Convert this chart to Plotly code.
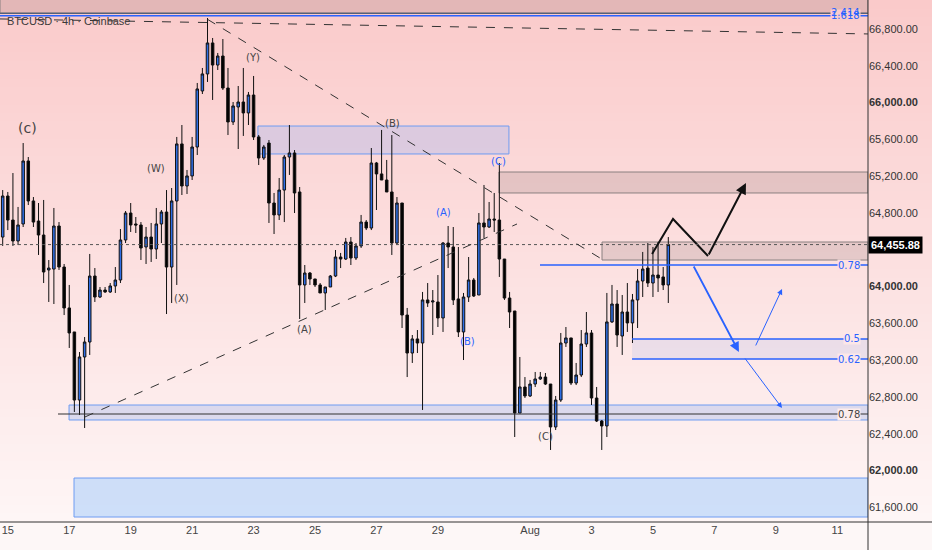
import pandas as pd
import plotly.graph_objects as go

# BTCUSD 4h candles
opens = [64538, 64984, 64723, 64495, 64680, 65365, 64930, 64712, 64560, 64180,
         64190, 64658, 64212, 63767, 63506, 62766, 63234, 63397, 64114, 63886,
         63962, 63941, 64006, 64071, 64506, 64799, 64680, 64669, 64430, 64538,
         64408, 64680, 64810, 64212, 64930, 65550, 65093, 65202, 65517, 66126,
         66311, 66648, 66408, 66506, 66158, 65789, 65952, 66006, 65887, 66082,
         65626, 65397, 65560, 64908, 64778, 65049, 65408, 65452, 65028, 64017,
         64147, 64082, 64017, 63930, 63995, 64114, 64321, 64299, 64484, 64310,
         64441, 64701, 64636, 65343, 65224, 65158, 65028, 64473, 64908, 63690,
         63277, 63430, 63386, 63854, 63832, 63832, 63658, 64473, 64430, 63865,
         63506, 63886, 64071, 63908, 64691, 64647, 64734, 64723, 64299, 63875,
         63734, 62625, 62908, 62810, 62940, 62995, 63016, 62940, 62473, 62766,
         63386, 63441, 62951, 63038, 63375, 63495, 62788, 62538, 62484, 63615,
         63810, 63462, 63723, 63604, 63854, 64060, 64201, 64038, 64125, 64104,
         64017]
highs = [65049, 65028, 65234, 64865, 65560, 65408, 64973, 64908, 64941, 64288,
         64854, 64701, 64245, 64017, 63506, 63288, 63451, 64354, 64201, 63995,
         63995, 64038, 64212, 64625, 64821, 64908, 64756, 64701, 64647, 64691,
         64854, 64832, 65049, 65071, 65626, 65756, 65267, 65626, 66213, 66376,
         66919, 66702, 66539, 66691, 66376, 66006, 66180, 66376, 66115, 66289,
         65647, 65539, 65593, 65017, 65180, 65430, 65756, 65484, 65082, 64234,
         64158, 64082, 64038, 63995, 64125, 64397, 64365, 64528, 64538, 64473,
         64778, 64723, 65506, 65354, 65702, 65376, 65647, 64973, 64908, 63767,
         63473, 63527, 63941, 64038, 63962, 64125, 64484, 64658, 64647, 64430,
         63930, 64321, 64093, 64799, 65104, 64919, 65017, 65343, 64299, 63941,
         63734, 63234, 63016, 62984, 63071, 63071, 63060, 62940, 62810, 63495,
         63560, 63441, 63169, 63527, 63723, 63527, 62908, 62549, 63930, 64017,
         63962, 63908, 64038, 63919, 64190, 64376, 64473, 64430, 64484, 64212,
         64538]
lows = [64441, 64614, 64441, 64451, 64647, 64886, 64647, 64343, 64038, 63832,
        63810, 64180, 63690, 63332, 62636, 62603, 62462, 63256, 63832, 63875,
        63930, 63930, 63930, 64038, 64473, 64593, 64582, 64288, 64245, 64267,
        64299, 64473, 63701, 63821, 64017, 64995, 65006, 65158, 65430, 66093,
        66224, 66028, 66354, 66137, 65647, 65756, 65495, 65637, 65756, 65593,
        65321, 65376, 64691, 64571, 64723, 64701, 65213, 64799, 63647, 63821,
        64017, 63995, 63930, 63745, 63995, 64103, 64201, 64288, 64234, 64288,
        64419, 64614, 64614, 64832, 65158, 65028, 64343, 64451, 63549, 63016,
        63169, 63277, 62658, 63778, 63473, 63560, 63506, 64201, 63799, 63451,
        63201, 63832, 63886, 63908, 64528, 64636, 64593, 64104, 63854, 63549,
        62364, 62625, 62788, 62799, 62908, 62984, 62929, 62223, 62440, 62745,
        63343, 62929, 62929, 63016, 63343, 62712, 62527, 62223, 62364, 63604,
        63343, 63256, 63506, 63386, 63549, 63886, 63995, 63886, 63941, 63962,
        63821]
closes = [64984, 64723, 64495, 64669, 65365, 64930, 64701, 64560, 64158, 64201,
          64658, 64212, 63767, 63495, 62766, 63234, 63397, 64114, 63886, 63962,
          63941, 64006, 64071, 64506, 64799, 64669, 64669, 64419, 64538, 64408,
          64680, 64810, 64212, 64930, 65550, 65093, 65202, 65517, 66148, 66311,
          66648, 66408, 66506, 66158, 65789, 65963, 66006, 65887, 66082, 65626,
          65397, 65517, 64908, 64778, 65049, 65408, 65452, 65017, 64017, 64147,
          64082, 64017, 63930, 63995, 64114, 64321, 64299, 64484, 64310, 64441,
          64701, 64636, 65343, 65224, 65158, 65028, 64473, 64908, 63690, 63277,
          63430, 63386, 63854, 63821, 63843, 63658, 64473, 64430, 63854, 63506,
          63886, 64071, 63897, 64691, 64647, 64734, 64723, 64299, 63875, 63723,
          62625, 62908, 62810, 62940, 62995, 63016, 62940, 62473, 62766, 63386,
          63441, 62951, 63038, 63375, 63495, 62788, 62538, 62484, 63615, 63810,
          63473, 63723, 63604, 63854, 64060, 64190, 64038, 64125, 64093, 64017,
          64455.88]
dates = pd.date_range("2024-07-14 20:00", periods=len(opens), freq="4h")

last_price = 64455.88
price_ticks = [61600, 62000, 62400, 62800, 63200, 63600, 64000, 64800, 65200,
               65600, 66000, 66400, 66800]
bold_ticks = [62000, 64000, 66000]
day_ticks = ["2024-07-15", "2024-07-17", "2024-07-19", "2024-07-21", "2024-07-23",
             "2024-07-25", "2024-07-27", "2024-07-29", "2024-08-01", "2024-08-03",
             "2024-08-05", "2024-08-07", "2024-08-09", "2024-08-11"]
day_labels = ["15", "17", "19", "21", "23", "25", "27", "29", "Aug", "3", "5", "7", "9", "11"]

x_start, x_end = "2024-07-14 17:54", "2024-08-12 00:00"
y_lo, y_hi = 61440, 67115

BLUE = "#2962ff"
CANDLE_BLUE = "#2f6fe6"
DARK = "#333333"
FONT = "Liberation Sans"


def bg_at(frac):
    # frac 0 = bottom, 1 = top of the plot area
    top = (250, 202, 202)
    bot = (254, 246, 246)
    c = [round(b + (t - b) * frac) for t, b in zip(top, bot)]
    return "rgb(%d,%d,%d)" % tuple(c)


def frac_of(price):
    return (price - y_lo) / (y_hi - y_lo)


fig = go.Figure()

fig.add_trace(go.Candlestick(
    x=dates, open=opens, high=highs, low=lows, close=closes,
    increasing=dict(fillcolor=CANDLE_BLUE, line=dict(color="#111111", width=1)),
    decreasing=dict(fillcolor="#000000", line=dict(color="#111111", width=1)),
    whiskerwidth=0, hoverinfo="skip", showlegend=False,
))

shapes = []
# background gradient (plot area + price axis)
n_bands = 60
for k in range(n_bands):
    shapes.append(dict(type="rect", xref="paper", yref="paper", x0=0, x1=1.08,
                       y0=k / n_bands, y1=(k + 1) / n_bands + 0.002,
                       fillcolor=bg_at((k + 0.5) / n_bands), line=dict(width=0), layer="below"))


def zone(x0, x1, y0, y1, fill, line_color, lw=1):
    shapes.append(dict(type="rect", xref="x", yref="y", x0=x0, x1=x1, y0=y0, y1=y1,
                       fillcolor=fill, line=dict(color=line_color, width=lw), layer="below"))


def hline(x0, x1, y, color, width=1, dash="solid"):
    shapes.append(dict(type="line", xref="x", yref="y", x0=x0, x1=x1, y0=y, y1=y,
                       line=dict(color=color, width=width, dash=dash)))


def seg(x0, y0, x1, y1, color=DARK, width=1, dash="dash"):
    shapes.append(dict(type="line", xref="x", yref="y", x0=x0, x1=x1, y0=y0, y1=y1,
                       line=dict(color=color, width=width, dash=dash)))


# zones
zone(x_start, x_end, 66974, 67300, "rgba(200,160,160,0.45)", "#8a8080")
zone("2024-07-23 03:24", "2024-07-31 07:30", 65441, 65745, "rgba(170,185,240,0.38)", "#6e9cf2")
zone("2024-07-30 23:40", x_end, 65017, 65245, "rgba(160,130,130,0.25)", "#8a8080")
zone("2024-08-03 08:12", x_end, 64288, 64484, "rgba(160,130,130,0.25)", "#8a8080")
zone("2024-08-04 07:40", x_end, 63212, 63430, "rgba(175,185,235,0.22)", "rgba(0,0,0,0)", 0)
zone("2024-07-16 23:50", x_end, 62549, 62712, "rgba(120,160,240,0.25)", "#6e9cf2")
zone("2024-07-17 03:43", x_end, 61494, 61918, "rgba(190,215,250,0.75)", "#6e9cf2")

# fib levels
hline(x_start, x_end, 66970, "#55607a", 1.2)
hline(x_start, x_end, 66944, BLUE, 1.5)
hline("2024-08-01 07:45", x_end, 64234, BLUE, 1.5)
hline("2024-08-04 07:40", x_end, 63430, BLUE, 1.5)
hline("2024-08-04 07:40", x_end, 63212, BLUE, 1.5)
hline("2024-07-16 15:12", x_end, 62614, DARK, 1.2)
hline(x_start, x_end, last_price, "#555555", 1, "dot")

# trend lines
seg(x_start, 66909, x_end, 66746)
seg("2024-07-21 12:00", 66905, "2024-08-03 06:38", 64310)
seg("2024-07-17 12:17", 62582, "2024-07-31 13:48", 64680)

# price axis / time axis frame lines
shapes.append(dict(type="line", xref="paper", yref="paper", x0=1, x1=1, y0=-0.06, y1=1,
                   line=dict(color=DARK, width=1)))
shapes.append(dict(type="line", xref="paper", yref="paper", x0=0, x1=1.08, y0=0, y1=0,
                   line=dict(color=DARK, width=1)))

# black zigzag projection
fig.add_trace(go.Scatter(
    x=["2024-08-04 23:17", "2024-08-05 15:40", "2024-08-06 19:00"],
    y=[64354, 64734, 64332], mode="lines", line=dict(color="#111111", width=2),
    hoverinfo="skip", showlegend=False,
))

annotations = []


def arrow(x0, y0, x1, y1, color, width):
    annotations.append(dict(x=x1, y=y1, ax=x0, ay=y0, xref="x", yref="y", axref="x", ayref="y",
                            showarrow=True, arrowhead=2, arrowsize=1.1, arrowwidth=width,
                            arrowcolor=color, text=""))


arrow("2024-08-06 19:00", 64332, "2024-08-08 00:40", 65126, "#111111", 2)
arrow("2024-08-06 07:15", 64234, "2024-08-07 19:10", 63288, BLUE, 1.8)
arrow("2024-08-08 07:45", 63343, "2024-08-09 04:50", 63973, BLUE, 1)
arrow("2024-08-07 23:05", 63234, "2024-08-09 04:50", 62679, BLUE, 1)


def label(x, y, text, color="#444444", size=11):
    annotations.append(dict(x=x, y=y, xref="x", yref="y", text=text, showarrow=False,
                            font=dict(color=color, size=size, family="DejaVu Sans")))


label("2024-07-15 15:45", 65724, "(c)", size=14)
label("2024-07-19 19:45", 65278, "(W)", size=10)
label("2024-07-22 23:30", 66485, "(Y)", size=10)
label("2024-07-20 16:00", 63875, "(X)", size=10)
label("2024-07-24 15:25", 63538, "(A)", size=10)
label("2024-07-27 12:10", 65767, "(B)", size=10)
label("2024-07-20 23:50", 67150, "(d)", size=12)
label("2024-07-29 04:00", 64800, "(A)", BLUE, 10)
label("2024-07-29 23:30", 63397, "(B)", BLUE, 10)
label("2024-07-30 23:40", 65354, "(C)", BLUE, 10)
label("2024-08-01 11:40", 62375, "(C)", size=10)


def level_label(y, text, color, masked=True):
    annotations.append(dict(xref="paper", yref="y", x=0.992, y=y, xanchor="right", text=text,
                            showarrow=False, borderpad=0,
                            bgcolor=bg_at(frac_of(y)) if masked else "rgba(0,0,0,0)",
                            font=dict(color=color, size=10, family="DejaVu Sans")))


level_label(66944, "1.618", BLUE)
level_label(66976, "2.414", BLUE, masked=False)
level_label(64234, "0.78", BLUE)
level_label(63430, "0.5", BLUE)
level_label(63212, "0.62", BLUE)
level_label(62614, "0.78", "#444444")

# symbol title and last price tag
annotations.append(dict(xref="paper", yref="paper", x=0.006, y=1 - 13 / 522, xanchor="left",
                        text="BTCUSD · 4h · Coinbase", showarrow=False,
                        font=dict(color="#3a3a3a", size=11, family=FONT)))
annotations.append(dict(xref="paper", yref="y", x=1, y=last_price, xanchor="left",
                        text=f"<b>{last_price:,.2f}</b>", showarrow=False, bgcolor="#000000",
                        borderpad=2, font=dict(color="#ffffff", size=11, family=FONT)))

tick_text = [f"<b>{v:,.2f}</b>" if v in bold_ticks else f"{v:,.2f}" for v in price_ticks]

fig.update_layout(
    width=932, height=550,
    margin=dict(l=0, r=64, t=0, b=28),
    paper_bgcolor="#fdf7f7", plot_bgcolor="rgba(0,0,0,0)",
    shapes=shapes, annotations=annotations,
    font=dict(family=FONT, color=DARK, size=11),
    xaxis=dict(type="date", range=[x_start, x_end], rangeslider=dict(visible=False),
               tickvals=day_ticks, ticktext=day_labels, showgrid=False, zeroline=False,
               showline=False, ticks="", tickfont=dict(size=11, color="#444444")),
    yaxis=dict(range=[y_lo, y_hi], side="right", tickvals=price_ticks, ticktext=tick_text,
               showgrid=False, zeroline=False, showline=False, ticks="",
               tickfont=dict(size=11, color="#333333")),
    hovermode=False,
)

fig.write_html("out.html", config={"displayModeBar": False},
               post_script="document.body.style.margin='0';")
